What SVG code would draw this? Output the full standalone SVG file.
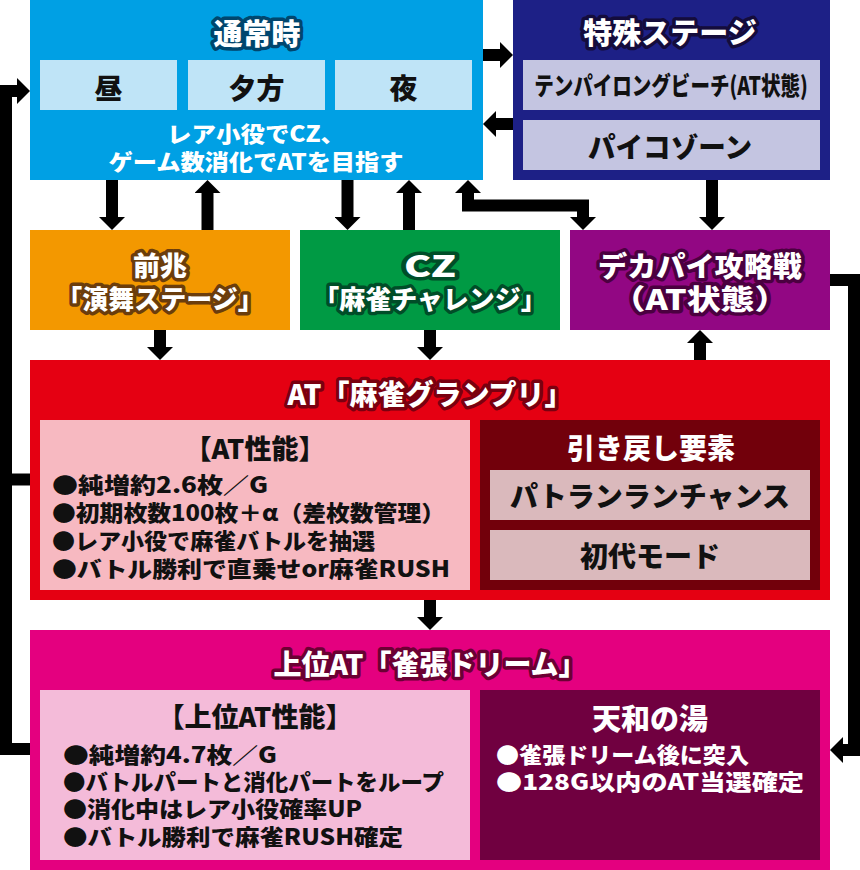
<svg xmlns="http://www.w3.org/2000/svg" width="860" height="870" viewBox="0 0 860 870">
<defs>
<style>
.t{font-family:"Noto Sans CJK JP","Noto Sans",sans-serif;font-weight:900;dominant-baseline:central;text-anchor:middle}
.l{text-anchor:start}
.ttl{fill:#fff;stroke-width:7;paint-order:stroke;stroke-linejoin:round}
.k{fill:#111}
.w{fill:#fff}
.conn path{fill:none;stroke:#000;stroke-width:12;stroke-linejoin:miter}
</style>
<marker id="ah" markerUnits="userSpaceOnUse" markerWidth="14" markerHeight="26" viewBox="0 0 14 26" refX="0" refY="13" orient="auto-start-reverse">
<path d="M0,0 L13,13 L0,26 Z" fill="#000"/>
</marker>
</defs>
<rect width="860" height="870" fill="#fff"/>

<g id="tsujo">
<rect x="30" y="0" width="453" height="180" fill="#00a0e4"/>
<text class="t ttl" x="257" y="32" font-size="29" stroke="#00466e">通常時</text>
<rect x="40" y="60" width="137" height="50" fill="#bfe4f7"/>
<rect x="188" y="60" width="137" height="50" fill="#bfe4f7"/>
<rect x="335" y="60" width="137" height="50" fill="#bfe4f7"/>
<text class="t k" x="108.5" y="87" font-size="28">昼</text>
<text class="t k" x="256.5" y="87" font-size="28">夕方</text>
<text class="t k" x="403.5" y="87" font-size="28">夜</text>
<text class="t w" x="256" y="132" font-size="22" textLength="178" lengthAdjust="spacingAndGlyphs">レア小役でCZ、</text>
<text class="t w" x="256" y="160" font-size="22" textLength="295" lengthAdjust="spacingAndGlyphs">ゲーム数消化でATを目指す</text>
</g>

<g id="tokushu">
<rect x="513" y="0" width="317" height="180" fill="#1d2086"/>
<text class="t ttl" x="670" y="31" font-size="29" stroke="#140c3c">特殊ステージ</text>
<rect x="523" y="60" width="297" height="50" fill="#c4c5e1"/>
<rect x="523" y="120" width="297" height="50" fill="#c4c5e1"/>
<text class="t k" transform="translate(671,85) scale(0.8,1)" x="0" y="0" font-size="25" textLength="342" lengthAdjust="spacingAndGlyphs">テンパイロングビーチ(AT状態)</text>
<text class="t k" x="670" y="146" font-size="28" textLength="164" lengthAdjust="spacingAndGlyphs">パイコゾーン</text>
</g>

<g id="zencho">
<rect x="30" y="230" width="260" height="100" fill="#f39800"/>
<text class="t ttl" x="160" y="264" font-size="27" stroke="#6b3d0c">前兆</text>
<text class="t ttl" x="160" y="297" font-size="26" stroke="#6b3d0c">「演舞ステージ」</text>
</g>

<g id="cz">
<rect x="300" y="230" width="260" height="100" fill="#009a44"/>
<text class="t ttl" x="430" y="264" font-size="29" stroke="#004d28" textLength="52" lengthAdjust="spacingAndGlyphs">CZ</text>
<text class="t ttl" x="430" y="297" font-size="26" stroke="#004d28">「麻雀チャレンジ」</text>
</g>

<g id="dekapai">
<rect x="570" y="230" width="260" height="100" fill="#920783"/>
<text class="t ttl" x="700" y="265" font-size="28" stroke="#4b0040" textLength="204" lengthAdjust="spacingAndGlyphs">デカパイ攻略戦</text>
<text class="t ttl" x="700" y="298" font-size="28" stroke="#4b0040" textLength="177" lengthAdjust="spacingAndGlyphs">（AT状態）</text>
</g>

<g id="at">
<rect x="30" y="360" width="800" height="240" fill="#e50012"/>
<text class="t ttl" x="430" y="393" font-size="28" stroke="#7a0010">AT「麻雀グランプリ」</text>
<rect x="40" y="420" width="430" height="170" fill="#f7b9c1"/>
<rect x="480" y="420" width="340" height="170" fill="#72000b"/>
<text class="t k" x="255" y="447" font-size="27">【AT性能】</text>
<text class="t k l" x="52" y="483" font-size="22" textLength="216" lengthAdjust="spacingAndGlyphs">●純増約2.6枚／G</text>
<text class="t k l" x="52" y="511" font-size="22" textLength="393" lengthAdjust="spacingAndGlyphs">●初期枚数100枚＋α（差枚数管理）</text>
<text class="t k l" x="52" y="539" font-size="22" textLength="323" lengthAdjust="spacingAndGlyphs">●レア小役で麻雀バトルを抽選</text>
<text class="t k l" x="52" y="567" font-size="22" textLength="398" lengthAdjust="spacingAndGlyphs">●バトル勝利で直乗せor麻雀RUSH</text>
<text class="t w" x="651" y="447" font-size="28">引き戻し要素</text>
<rect x="490" y="470" width="320" height="50" fill="#dab9bc"/>
<rect x="490" y="530" width="320" height="50" fill="#dab9bc"/>
<text class="t k" x="650" y="495" font-size="28" textLength="280" lengthAdjust="spacingAndGlyphs">パトランランチャンス</text>
<text class="t k" x="650" y="555" font-size="28">初代モード</text>
</g>

<g id="joui">
<rect x="30" y="630" width="800" height="240" fill="#e4007f"/>
<text class="t ttl" x="430" y="663" font-size="28" stroke="#6b0033">上位AT「雀張ドリーム」</text>
<rect x="40" y="690" width="430" height="170" fill="#f4bbd9"/>
<rect x="480" y="690" width="340" height="170" fill="#700040"/>
<text class="t k" x="255" y="715" font-size="27">【上位AT性能】</text>
<text class="t k l" x="63" y="753" font-size="22" textLength="214" lengthAdjust="spacingAndGlyphs">●純増約4.7枚／G</text>
<text class="t k l" x="63" y="780" font-size="22" textLength="381" lengthAdjust="spacingAndGlyphs">●バトルパートと消化パートをループ</text>
<text class="t k l" x="63" y="807" font-size="22" textLength="299" lengthAdjust="spacingAndGlyphs">●消化中はレア小役確率UP</text>
<text class="t k l" x="63" y="835" font-size="22" textLength="340" lengthAdjust="spacingAndGlyphs">●バトル勝利で麻雀RUSH確定</text>
<text class="t w" x="650" y="717" font-size="29">天和の湯</text>
<text class="t w l" x="496" y="753" font-size="22" textLength="253" lengthAdjust="spacingAndGlyphs">●雀張ドリーム後に突入</text>
<text class="t w l" x="496" y="780" font-size="22" textLength="308" lengthAdjust="spacingAndGlyphs">●128G以内のAT当選確定</text>
</g>

<g id="connectors" class="conn">
<path d="M483,55 L500,55" marker-end="url(#ah)"/>
<path d="M513,124 L496,124" marker-end="url(#ah)"/>
<path d="M112,180 L112,217" marker-end="url(#ah)"/>
<path d="M207.5,230 L207.5,193" marker-end="url(#ah)"/>
<path d="M347.5,180 L347.5,217" marker-end="url(#ah)"/>
<path d="M409,230 L409,193" marker-end="url(#ah)"/>
<path d="M468,193 L468,205.5 L583,205.5 L583,217" marker-start="url(#ah)" marker-end="url(#ah)"/>
<path d="M712,180 L712,217" marker-end="url(#ah)"/>
<path d="M160,330 L160,347" marker-end="url(#ah)"/>
<path d="M430,330 L430,347" marker-end="url(#ah)"/>
<path d="M700,360 L700,343" marker-end="url(#ah)"/>
<path d="M430,600 L430,617" marker-end="url(#ah)"/>
<path d="M30,749 L6,749 L6,91 L17,91" marker-end="url(#ah)"/>
<path d="M30,479.5 L6,479.5"/>
<path d="M830,280 L854,280 L854,750 L843,750" marker-end="url(#ah)"/>
</g>
</svg>
